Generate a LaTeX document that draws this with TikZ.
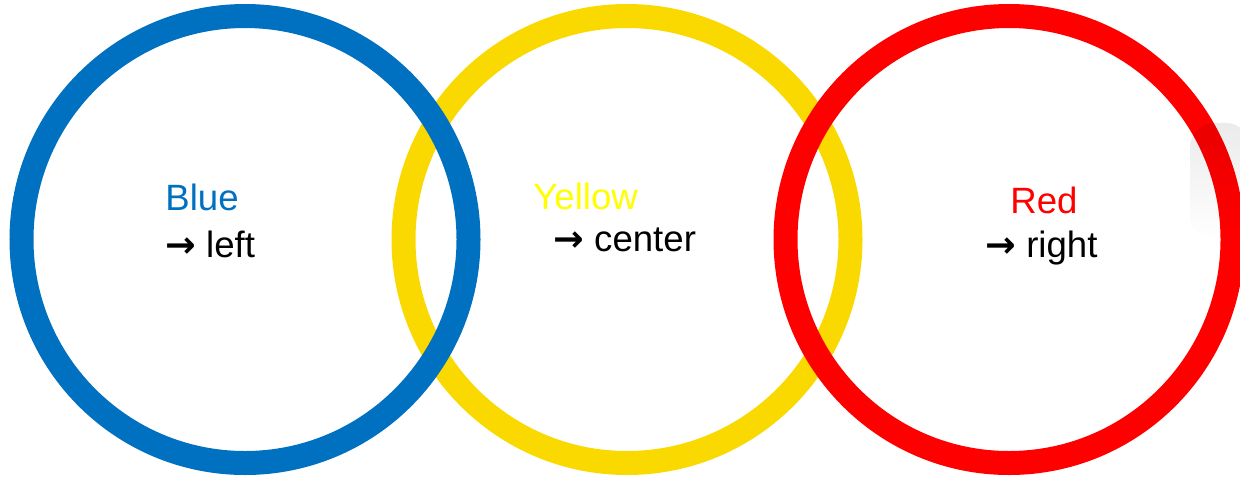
\documentclass[tikz,border=0pt]{standalone}
\usepackage{fontspec}
\setmainfont{Liberation Sans}
\newfontfamily\arrowfont{DejaVu Sans}
\usepackage{tikz}
\usetikzlibrary{shapes}
\usetikzlibrary{fadings}
\definecolor{ring_blue}{HTML}{0070C0}
\definecolor{ring_yellow}{HTML}{FAD900}
\definecolor{ring_red}{HTML}{FF0000}
\definecolor{text_yellow}{HTML}{FFFF00}
\newcommand{\goesto}{{\arrowfont\bfseries\symbol{"2192}}}
\tikzset{
  ring/.style = {circle, inner sep=0pt, minimum size=223.5pt,
    line width=12pt},% anneau
  blue_ring/.style = {ring, draw=ring_blue},% anneau bleu
  yellow_ring/.style = {ring, draw=ring_yellow},% anneau jaune
  red_ring/.style = {ring, draw=ring_red},% anneau rouge
  label_text/.style = {anchor=base west, inner sep=0pt,
    font=\fontsize{18.3}{22}\selectfont}% texte
}

\begin{document}
\begin{tikzpicture}[x=0.5pt, y=-0.5pt]
  \useasboundingbox (0,0) rectangle (1240,478);
  % anneaux, le jaune dessous
  \node [yellow_ring] (yellow) at (627,239.5) {};
  \node [blue_ring] (blue) at (245,239.5) {};
  \node [red_ring] (red) at (1009,239.5) {};
  \fill [black, opacity=0.08, path fading=south, rounded corners=12pt]
    (1190,123) rectangle (1250,240);
  % textes
  \node [label_text, ring_blue] (blue_name) at (165,210) {Blue};
  \node [label_text] (blue_dir) at (165,257) {\goesto{} left};
  \node [label_text, text_yellow] (yellow_name) at (533,209) {Yellow};
  \node [label_text] (yellow_dir) at (553,251) {\goesto{} center};
  \node [label_text, ring_red] (red_name) at (1010,213) {Red};
  \node [label_text] (red_dir) at (985,257) {\goesto{} right};
\end{tikzpicture}
\end{document}
